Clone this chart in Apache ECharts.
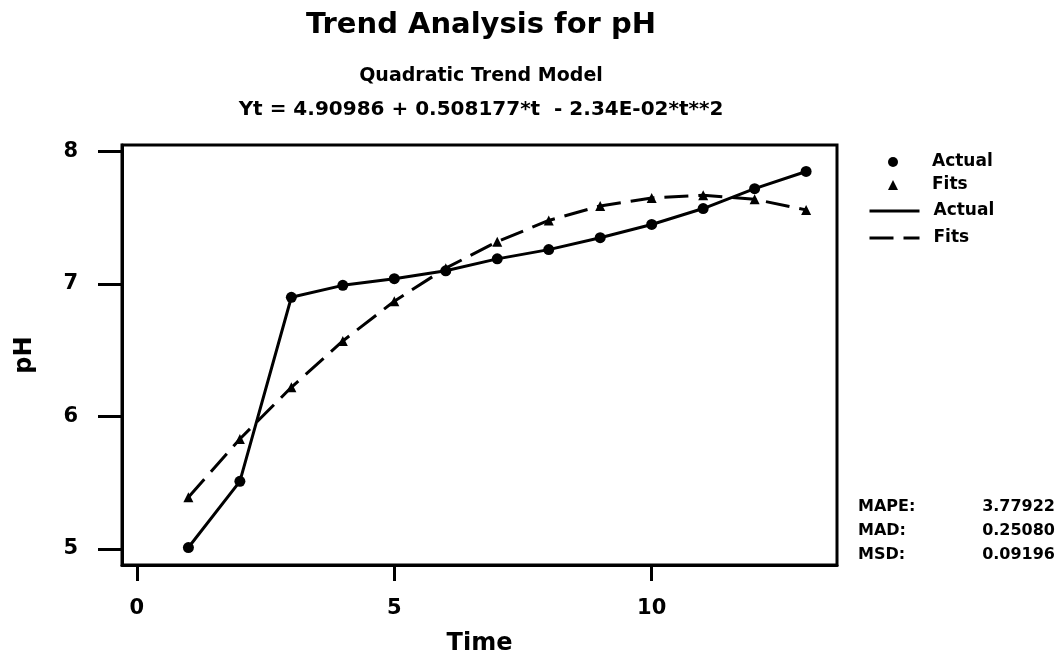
<!DOCTYPE html>
<html>
<head>
<meta charset="utf-8">
<script src="https://cdn.jsdelivr.net/npm/echarts@6/dist/echarts.min.js"></script>
<style>
html,body{margin:0;padding:0;background:#fff;}
#chart{width:1059px;height:661px;}
</style>
</head>
<body>
<div id="chart"></div>
<script>
var time = [1,2,3,4,5,6,7,8,9,10,11,12,13];
var actual = [5.01,5.51,6.90,6.99,7.04,7.10,7.19,7.26,7.35,7.45,7.57,7.72,7.85];
var fits = [5.39,5.83,6.22,6.57,6.87,7.12,7.32,7.48,7.59,7.65,7.67,7.64,7.56];
var xTicks = [0,5,10];
var yTicks = [5,6,7,8];
var titleText = 'Trend Analysis for pH';
var subtitleText = 'Quadratic Trend Model';
var equationText = 'Yt = 4.90986 + 0.508177*t  - 2.34E-02*t**2';
var statLabels = ['MAPE:','MAD:','MSD:'];
var statValues = ['3.77922','0.25080','0.09196'];

var FONT = 'DejaVu Sans';
function pairs(xs, ys){ return xs.map(function(x,i){ return [x, ys[i]]; }); }

var chart = echarts.init(document.getElementById('chart'), null, {renderer:'canvas'});
var graphics = [
  {type:'text', x:481, y:25, style:{text:titleText, font:'bold 29px "DejaVu Sans"', fill:'#000', textAlign:'center', textVerticalAlign:'middle'}},
  {type:'text', x:481, y:76, style:{text:subtitleText, font:'bold 19px "DejaVu Sans"', fill:'#000', textAlign:'center', textVerticalAlign:'middle'}},
  {type:'text', x:481, y:110, style:{text:equationText, font:'bold 20px "DejaVu Sans"', fill:'#000', textAlign:'center', textVerticalAlign:'middle'}}
];
statLabels.forEach(function(s,i){
  graphics.push({type:'text', x:858, y:507+i*24, style:{text:s, font:'bold 16px "DejaVu Sans"', fill:'#000', textAlign:'left', textVerticalAlign:'middle'}});
  graphics.push({type:'text', x:1055, y:507+i*24, style:{text:statValues[i], font:'bold 16px "DejaVu Sans"', fill:'#000', textAlign:'right', textVerticalAlign:'middle'}});
});

var option = {
  backgroundColor:'#fff',
  animation:false,
  grid:{left:122, right:222, top:145, bottom:92, show:true, borderColor:'#000', borderWidth:3, backgroundColor:'transparent'},
  legend:[
    {orient:'vertical', left:883, top:148, itemWidth:10, itemHeight:10, itemGap:5, data:['Actual','Fits'],
     textStyle:{fontFamily:FONT, fontWeight:'bold', fontSize:17, color:'#000', lineHeight:18, padding:[0,0,0,29]}, selectedMode:false},
    {orient:'vertical', left:863, top:197, itemWidth:50, itemHeight:14, itemGap:9, data:['Actual ','Fits '],
     itemStyle:{opacity:0}, lineStyle:{color:'#000', width:3},
     textStyle:{fontFamily:FONT, fontWeight:'bold', fontSize:17, color:'#000', lineHeight:18, padding:[0,0,0,9]}, selectedMode:false,
     formatter:function(n){return n.trim();}}
  ],
  xAxis:{
    type:'value', min:-0.29, max:13.6,
    name:'Time', nameLocation:'middle', nameGap:67,
    nameTextStyle:{fontFamily:FONT, fontWeight:'bold', fontSize:24, color:'#000', verticalAlign:'top'},
    axisLine:{show:true, onZero:false, lineStyle:{color:'#000', width:3}},
    axisTick:{show:true, length:16, lineStyle:{color:'#000', width:3}, customValues:xTicks},
    axisLabel:{fontFamily:FONT, fontWeight:'bold', fontSize:21, color:'#000', margin:33, customValues:xTicks},
    splitLine:{show:false}
  },
  yAxis:{
    type:'value', min:4.878, max:8.05,
    name:'pH', nameLocation:'middle', nameGap:85, nameRotate:90,
    nameTextStyle:{fontFamily:FONT, fontWeight:'bold', fontSize:24, color:'#000'},
    axisLine:{show:true, onZero:false, lineStyle:{color:'#000', width:3}},
    axisTick:{show:true, length:24, lineStyle:{color:'#000', width:3}, customValues:yTicks},
    axisLabel:{fontFamily:FONT, fontWeight:'bold', fontSize:21, color:'#000', margin:44, customValues:yTicks},
    splitLine:{show:false}
  },
  series:[
    {name:'Actual', type:'scatter', data:pairs(time, actual), symbol:'circle', symbolSize:11, itemStyle:{color:'#000', opacity:1}, z:5},
    {name:'Fits', type:'scatter', data:pairs(time, fits), symbol:'triangle', symbolSize:10, itemStyle:{color:'#000', opacity:1}, z:5},
    {name:'Actual ', type:'line', data:pairs(time, actual), symbol:'none', lineStyle:{color:'#000', width:3, type:'solid'}, itemStyle:{color:'#000'}},
    {name:'Fits ', type:'line', data:pairs(time, fits), symbol:'none', lineStyle:{color:'#000', width:3, type:[24,10]}, itemStyle:{color:'#000'}}
  ],
  graphic:graphics
};
chart.setOption(option);
</script>
</body>
</html>
